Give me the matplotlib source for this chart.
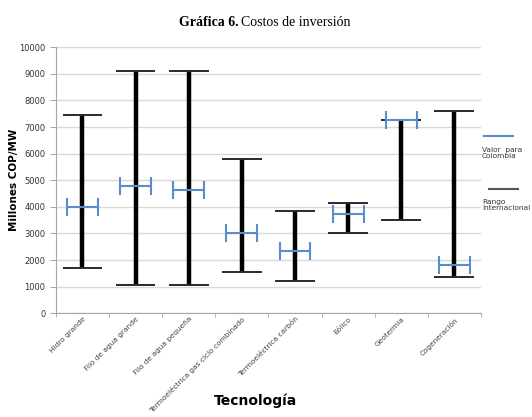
import numpy as np
import matplotlib.pyplot as plt
from matplotlib.lines import Line2D

# datos
tecnologias = ["Hidro grande", "Filo de agua grande", "Filo de agua pequeña",
               "Termoeléctrica gas ciclo combinado", "Termoeléctrica carbón",
               "Eólico", "Geotermia", "Cogeneración"]
rango_min = [1700, 1050, 1050, 1550, 1200, 3000, 3500, 1350]
rango_max = [7450, 9100, 9100, 5800, 3850, 4150, 7250, 7600]
valor_colombia = [4000, 4800, 4650, 3000, 2350, 3750, 7250, 1800]

azul = '#5B8CCB'
gris_eje = '#A6A6A6'

fig = plt.figure(figsize=(5.32, 4.17), dpi=100)
ax = fig.add_axes([0.105, 0.2487, 0.799, 0.638])

x = np.arange(1, len(tecnologias) + 1)

# rango internacional
ax.vlines(x, rango_min, rango_max, color='black', lw=3.2, zorder=3)
ax.hlines(rango_min, x - 0.375, x + 0.375, color='#2a2a2a', lw=1.4, zorder=3)
ax.hlines(rango_max, x - 0.375, x + 0.375, color='#2a2a2a', lw=1.4, zorder=3)

# valor para Colombia
ax.errorbar(x, valor_colombia, xerr=0.29, fmt='none', ecolor=azul,
            elinewidth=1.5, capsize=6.5, capthick=1.5, zorder=4)

ax.set_xlim(0.5, len(tecnologias) + 0.5)
ax.set_ylim(0, 10000)
ax.set_yticks(range(0, 10001, 1000))
ax.yaxis.grid(True, color='#D9D9D9', lw=1)
ax.set_axisbelow(True)

ax.set_xticks(x)
ax.set_xticklabels(tecnologias, rotation=45, ha='right', va='top',
                   rotation_mode='anchor', fontsize=5.3, color='#444444')
ax.set_xticks(np.arange(0.5, len(tecnologias) + 1, 1), minor=True)
ax.tick_params(axis='x', which='major', length=0, pad=2)
ax.tick_params(axis='x', which='minor', length=3, color=gris_eje, direction='out')
ax.tick_params(axis='y', length=4, color=gris_eje, labelsize=6, labelcolor='#333333')

for s in ['top', 'right']:
    ax.spines[s].set_visible(False)
for s in ['left', 'bottom']:
    ax.spines[s].set_color(gris_eje)

ax.set_ylabel("Millones COP/MW", fontsize=7.5, fontweight='bold')
ax.yaxis.set_label_coords(-0.087, 0.5)
ax.set_xlabel("Tecnología", fontsize=10, fontweight='bold')
ax.xaxis.set_label_coords(0.47, -0.30)

# titulo
fig.text(0.449, 0.947, "Gráfica 6.", ha='right', va='center',
         family='Liberation Serif', fontweight='bold', fontsize=10)
fig.text(0.453, 0.947, "Costos de inversión", ha='left', va='center',
         family='Liberation Serif', fontsize=10)

# leyenda
fig.add_artist(Line2D([484 / 532, 513 / 532], [1 - 136 / 417, 1 - 136 / 417],
                      color=azul, lw=1.5))
fig.text(482 / 532, 1 - 153 / 417, "Valor  para\nColombia", fontsize=5.3,
         color='#333333', va='center', ha='left', linespacing=1.1)
fig.add_artist(Line2D([489 / 532, 518 / 532], [1 - 189 / 417, 1 - 189 / 417],
                      color='#555555', lw=1.5))
fig.text(482 / 532, 1 - 205 / 417, "Rango\nInternacional", fontsize=5.3,
         color='#333333', va='center', ha='left', linespacing=1.1)

plt.savefig("out.png", dpi=100)
